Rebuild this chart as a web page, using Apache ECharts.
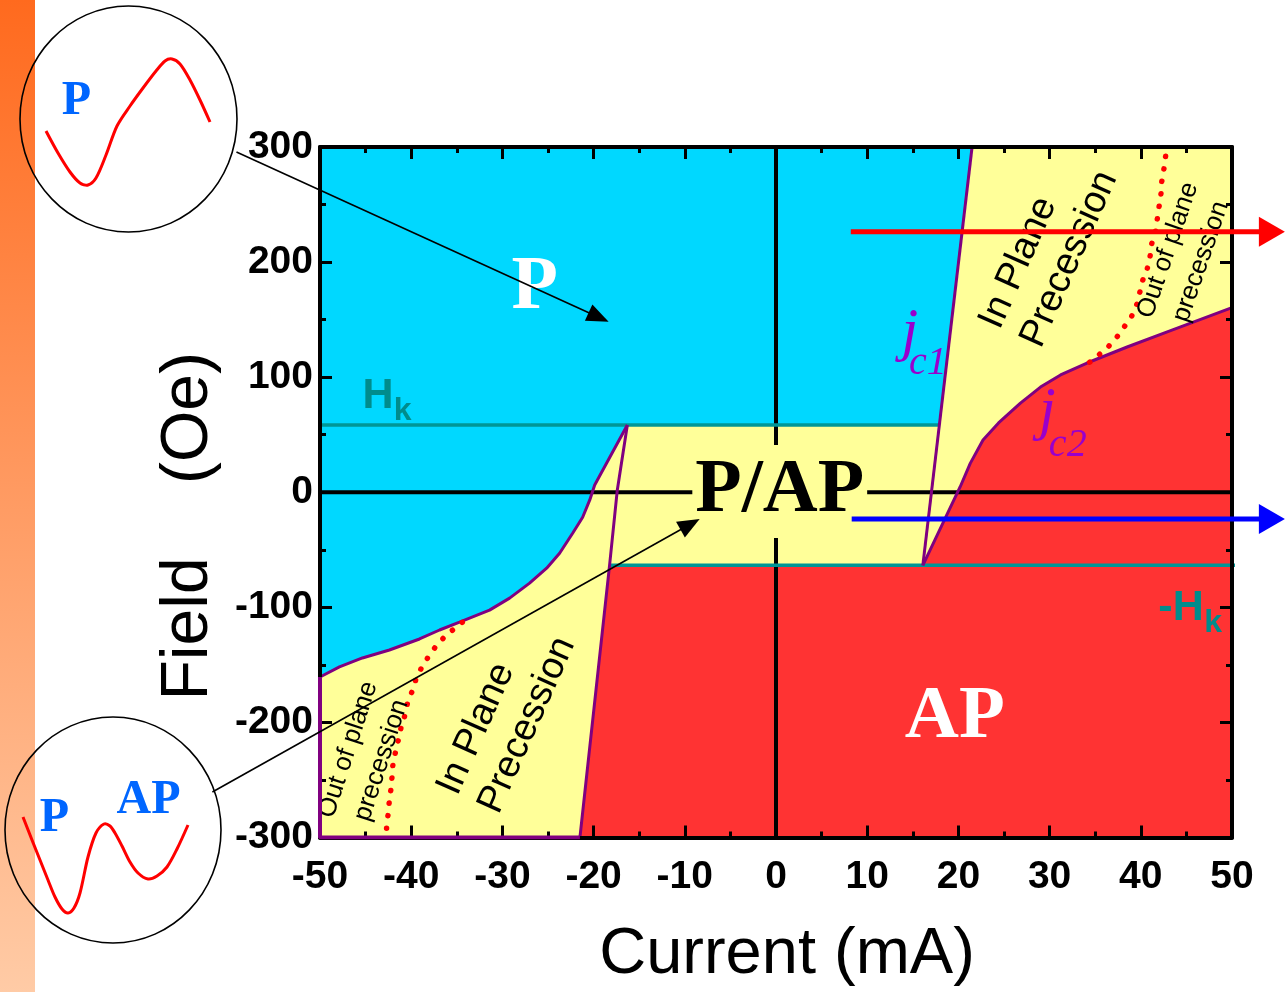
<!DOCTYPE html>
<html><head><meta charset="utf-8">
<script src="https://cdn.jsdelivr.net/npm/echarts@6/dist/echarts.min.js"></script>
<style>html,body{margin:0;padding:0;background:#fff}#c{width:1285px;height:992px}</style>
</head><body><div id="c"></div><script>
// ---- axes ----
const X_MIN = -50, X_MAX = 50, X_STEP = 10;
const Y_MIN = -300, Y_MAX = 300, Y_STEP = 100;
const xTitle = 'Current (mA)';
const yTitle = 'Field    (Oe)';

// ---- phase boundaries (Current mA, Field Oe) ----
const pBoundary = [[-50,-160.5],[-47.87,-151.8],[-45.35,-144.0],[-42.39,-137.1],[-39.09,-127.5],[-36.89,-119.7],[-34.70,-112.8],[-31.41,-102.4],[-29.21,-92.0],[-27.02,-79.0],[-25.15,-66.0],[-23.73,-53.0],[-22.30,-35.6],[-21.20,-21.7],[-20.43,-6.9],[-19.88,6.3],[-16.3,58.5]];
const jc1Left = [[-16.3,58.5],[-17.4,2],[-18.25,-63.5],[-21.5,-300]];
const jc1Right = [[16.1,-63.5],[21.5,300]];
const jc2 = [[16.1,-63.5],[20.2,4.8],[21.3,25.1],[22.7,45.4],[24.4,60.2],[26.8,77.5],[29.0,91.4],[31.2,101.9],[34.1,112.3],[38.5,126.2],[42.9,139.3],[50,160.5]];
const leftEdge = [[-50,-160.5],[-50,-300],[-21.5,-300]];
const hkLine = [[-50,58.5],[17.9,58.5]];
const negHkLine = [[-18.25,-63.5],[50.5,-63.5]];
const leftOop = [[-34.4,-113],[-35.5,-120],[-36.5,-127],[-37.4,-135],[-38.2,-144],[-38.9,-153],[-39.5,-163],[-39.9,-173],[-40.4,-183],[-40.7,-194],[-41.1,-204],[-41.4,-215],[-41.7,-225],[-42.0,-236],[-42.1,-247],[-42.2,-257],[-42.4,-268],[-42.5,-278],[-42.7,-290],[-42.7,-302]];
const rightOop = [[34.4,113],[35.5,120],[36.5,127],[37.5,136],[38.3,145],[39.0,153],[39.6,164],[39.9,174],[40.2,184],[40.7,194],[41.0,204],[41.2,216],[41.6,226],[41.8,237],[42.0,248],[42.2,258],[42.3,270],[42.5,279],[42.7,290],[42.8,302]];
const zeroH = [[-50,0],[50,0]];
const zeroV = [[0,-300],[0,300]];

// regions built from the boundaries
const yellowRegion = [[-50,-300]].concat(pBoundary, [[17.9,58.5],[21.5,300],[50,300],[50,-300]]);
const redRegion = [[-21.5,-300],[-18.25,-63.5]].concat(jc2, [[50,-300]]);

// ---- arrows [x1,y1,x2,y2] ----
const sweepArrows = [[8.2,226.3,55.8,226.3],[8.3,-23.2,55.8,-23.2]];
const pointerArrows = [[-59.16,295.7,-18.35,148.1],[-61.8,-260.5,-8.37,-23.2]];

// ---- labels ----
const phaseText = ['P','AP','P/AP'];
const phasePos = [[-26.47,177.6],[19.6,-196.0],[0.41,0.65]];
const precText = ['In Plane\nPrecession','In Plane\nPrecession'];
const precPos = [[-33.74,-268.9],[25.72,136.0]];
const oopText = ['Out of plane\nprecession','Out of plane\nprecession'];
const oopPos = [[-45.09,-228.3],[44.79,205.3]];
const hkText = ['H','-H'];
const hkPos = [[-43.64,83.6],[44.41,-100.6]];
const hkSubPos = [[-40.95,70.2],[47.92,-113.6]];
const jText = ['c1','c2'];
const jPos = [[14.67,137.9],[29.76,69.7]];
const jSubPos = [[16.65,111.6],[31.99,41.05]];

const chart = echarts.init(document.getElementById('c'), null, {renderer:'canvas'});

function xAx(pos, show) {
  return {type:'value', position:pos, min:X_MIN, max:X_MAX, interval:X_STEP, z:5,
    axisLine:{show:true,onZero:false,lineStyle:{color:'#000',width:4}},
    axisTick:{show:true,inside:true,length:12,lineStyle:{color:'#000',width:3}},
    minorTick:{show:true,splitNumber:2,length:6,lineStyle:{color:'#000',width:3}},
    splitLine:{show:false}, minorSplitLine:{show:false},
    axisLabel:{show:show,color:'#000',fontFamily:'Liberation Sans',fontWeight:'bold',fontSize:39,margin:20},
    name: show ? xTitle : '', nameLocation:'middle', nameGap:85,
    nameTextStyle:{color:'#000',fontFamily:'Liberation Sans',fontSize:65,padding:[0,0,0,22]}
  };
}
function yAx(pos, show) {
  return {type:'value', position:pos, min:Y_MIN, max:Y_MAX, interval:Y_STEP, z:5,
    axisLine:{show:true,onZero:false,lineStyle:{color:'#000',width:4}},
    axisTick:{show:true,inside:true,length:12,lineStyle:{color:'#000',width:3}},
    minorTick:{show:true,splitNumber:2,length:6,lineStyle:{color:'#000',width:3}},
    splitLine:{show:false}, minorSplitLine:{show:false},
    axisLabel:{show:show,color:'#000',fontFamily:'Liberation Sans',fontWeight:'bold',fontSize:39,margin:7,padding:[6,0,0,0]},
    name: show ? yTitle : '', nameLocation:'middle', nameGap:98, nameRotate:90,
    nameTextStyle:{color:'#000',fontFamily:'Liberation Sans',fontSize:66,padding:[0,68,0,0]}
  };
}
function lineS(data, color, width, z, extra) {
  return {type:'line', data:data, symbol:'none', silent:true, z:z,
    lineStyle:Object.assign({color:color,width:width}, extra||{})};
}
function polyS(points, fill) {
  return {type:'custom', z:1, silent:true, data:points,
    renderItem:function(params, api){
      if (params.dataIndex !== 0) return null;
      return {type:'polygon', shape:{points:points.map(p=>api.coord(p))}, style:{fill:fill}};
    }};
}
function arrowS(data, colors, width, headL, headW) {
  return {type:'custom', z:8, silent:true, data:data, clip:false,
    renderItem:function(params, api){
      const p1 = api.coord([api.value(0), api.value(1)]);
      const p2 = api.coord([api.value(2), api.value(3)]);
      const dx = p2[0]-p1[0], dy = p2[1]-p1[1], len = Math.hypot(dx,dy);
      const ux = dx/len, uy = dy/len;
      const bx = p2[0]-ux*headL, by = p2[1]-uy*headL;
      const c = colors[params.dataIndex];
      return {type:'group', children:[
        {type:'line', shape:{x1:p1[0],y1:p1[1],x2:bx+ux*2,y2:by+uy*2}, style:{stroke:c,lineWidth:width}},
        {type:'polygon', shape:{points:[[p2[0],p2[1]],[bx-uy*headW/2,by+ux*headW/2],[bx+uy*headW/2,by-ux*headW/2]]}, style:{fill:c}}
      ]};
    }};
}
function textS(pos, builder) {
  return {type:'custom', z:6, silent:true, data:pos, clip:false,
    renderItem:function(params, api){
      const p = api.coord([api.value(0), api.value(1)]);
      return builder(params.dataIndex, p, api);
    }};
}

const option = {
  animation:false,
  grid:{left:320, right:53, top:147, bottom:154.5, show:true, backgroundColor:'#00D8FF', borderWidth:0, containLabel:false, outerBoundsMode:'none'},
  xAxis:[xAx('bottom', true), xAx('top', false)],
  yAxis:[yAx('left', true), yAx('right', false)],
  graphic:[
    {type:'rect', shape:{x:0,y:0,width:35,height:992}, style:{fill:new echarts.graphic.LinearGradient(0,0,0,1,[{offset:0,color:'#FF6A1E'},{offset:1,color:'#FFCBA6'}])}},
    {type:'ellipse', shape:{cx:128.5,cy:119,rx:108.5,ry:113}, style:{fill:null,stroke:'#000',lineWidth:1.6}},
    {type:'polyline', shape:{points:[[46,131],[58,153],[70,172],[80,183],[88,185],[96,178],[106,155],[117,126],[130,106],[143,88],[156,71],[165,61],[172,59],[180,64],[190,80],[200,100],[210,122]], smooth:0.3}, style:{stroke:'#FF0000',lineWidth:3,fill:null}},
    {type:'text', x:76.5, y:102, style:{text:'P', fontFamily:'Liberation Serif', fontWeight:'bold', fontSize:48, fill:'#0066FF', align:'center', verticalAlign:'middle'}},
    {type:'ellipse', shape:{cx:113,cy:830,rx:108,ry:113}, style:{fill:null,stroke:'#000',lineWidth:1.6}},
    {type:'polyline', shape:{points:[[23,817],[32,840],[40,860],[48,880],[55,897],[62,909],[68,913],[74,908],[80,893],[88,857],[96,833],[104,824],[110,826],[115,833],[122,846],[130,862],[138,873],[148,879],[157,876],[167,867],[177,849],[188,825]], smooth:0.3}, style:{stroke:'#FF0000',lineWidth:3,fill:null}},
    {type:'text', x:54.5, y:819, style:{text:'P', fontFamily:'Liberation Serif', fontWeight:'bold', fontSize:48, fill:'#0066FF', align:'center', verticalAlign:'middle'}},
    {type:'text', x:148.5, y:801, style:{text:'AP', fontFamily:'Liberation Serif', fontWeight:'bold', fontSize:48, fill:'#0066FF', align:'center', verticalAlign:'middle'}}
  ],
  series:[
    polyS(yellowRegion, '#FFFF99'),
    polyS(redRegion, '#FF3333'),
    lineS(zeroH, '#000', 4, 2),
    lineS(zeroV, '#000', 4, 2),
    lineS(hkLine, '#009696', 3.5, 3),
    lineS(negHkLine, '#009696', 3.5, 3),
    lineS(pBoundary, '#800080', 3, 3),
    lineS(jc1Left, '#800080', 3, 3),
    lineS(jc1Right, '#800080', 3, 3),
    lineS(jc2, '#800080', 3, 3),
    lineS(leftEdge, '#800080', 4, 7),
    lineS(leftOop, '#FF0000', 5.5, 3, {type:[0.1,12.5], cap:'round'}),
    lineS(rightOop, '#FF0000', 5.5, 3, {type:[0.1,12.5], cap:'round'}),
    textS(phasePos, function(i, p){
      const st = {text:phaseText[i], fontFamily:'Liberation Serif', fontWeight:'bold', fontSize:[76,75,76][i],
        fill:['#fff','#fff','#000'][i], align:'center', verticalAlign:'middle', lineHeight:76};
      if (i === 2) { st.backgroundColor = '#FFFF99'; st.padding = [16,3,1,3]; }
      return {type:'text', x:p[0], y:p[1], style:st};
    }),
    textS(precPos, function(i, p){
      return {type:'text', x:p[0], y:p[1], rotation:66*Math.PI/180,
        style:{text:precText[i], fontFamily:'Liberation Sans', fontSize:38, lineHeight:45, fill:'#000', align:'left', verticalAlign:'middle'}};
    }),
    textS(oopPos, function(i, p){
      return {type:'text', x:p[0], y:p[1], rotation:[72,71][i]*Math.PI/180,
        style:{text:oopText[i], fontFamily:'Liberation Sans', fontSize:26, lineHeight:35, fill:'#000', align:'center', verticalAlign:'middle'}};
    }),
    textS(hkPos, function(i, p, api){
      const s = api.coord(hkSubPos[i]);
      return {type:'group', children:[
        {type:'text', x:p[0], y:p[1], style:{text:hkText[i], fontFamily:'Liberation Sans', fontWeight:'bold', fontSize:43, fill:'#008C8C', align:'center', verticalAlign:'middle'}},
        {type:'text', x:s[0], y:s[1], style:{text:'k', fontFamily:'Liberation Sans', fontWeight:'bold', fontSize:32, fill:'#008C8C', align:'center', verticalAlign:'middle'}}
      ]};
    }),
    textS(jPos, function(i, p, api){
      const s = api.coord(jSubPos[i]);
      return {type:'group', children:[
        {type:'text', x:p[0], y:p[1], style:{text:'j', fontFamily:'Liberation Serif', fontStyle:'italic', fontSize:60, fill:'#9900CC', align:'center', verticalAlign:'middle'}},
        {type:'text', x:s[0], y:s[1], style:{text:jText[i], fontFamily:'Liberation Serif', fontStyle:'italic', fontSize:40, fill:'#9900CC', align:'center', verticalAlign:'middle'}}
      ]};
    }),
    arrowS(sweepArrows, ['#FF0000','#0000FF'], 5, 26, 30),
    arrowS(pointerArrows, ['#000','#000'], 1.6, 22, 18)
  ]
};
chart.setOption(option);
</script></body></html>
